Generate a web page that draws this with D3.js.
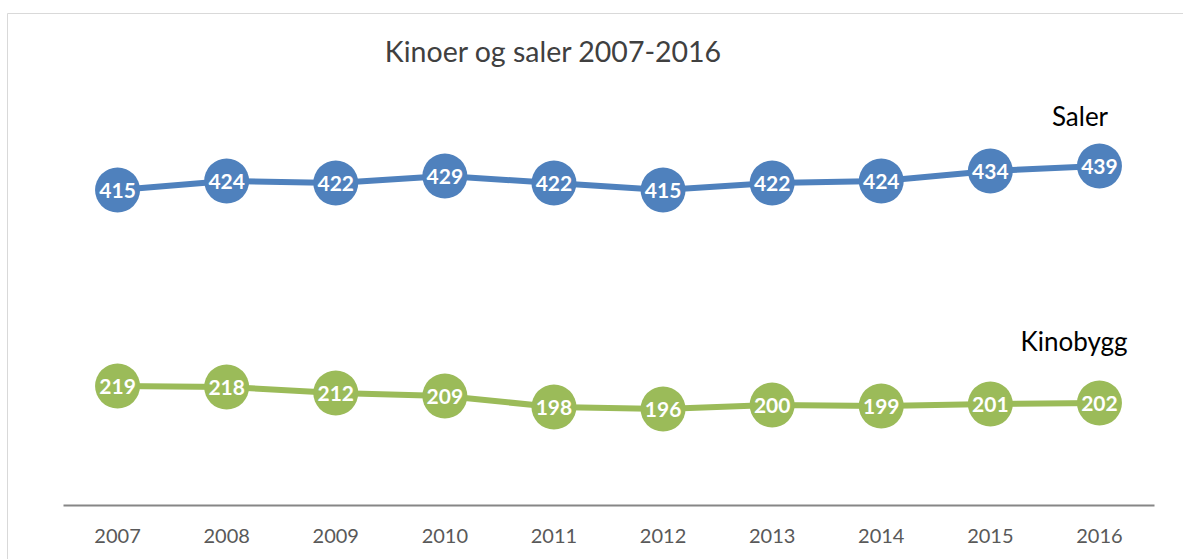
<!DOCTYPE html>
<html>
<head>
<meta charset="utf-8">
<script src="https://cdn.jsdelivr.net/npm/d3@7"></script>
<style>
  html, body { margin: 0; padding: 0; background: #fff; }
  svg { display: block; font-family: Lato, "Open Sans", sans-serif; }
</style>
</head>
<body>
<svg id="chart" width="1183" height="559"></svg>
<script>
const years = ["2007","2008","2009","2010","2011","2012","2013","2014","2015","2016"];
const saler = [415, 424, 422, 429, 422, 415, 422, 424, 434, 439];
const kinobygg = [219, 218, 212, 209, 198, 196, 200, 199, 201, 202];
const seriesNames = ["Saler", "Kinobygg"];
const seriesColors = ["#4F81BD", "#9BBB59"];
const title = "Kinoer og saler 2007-2016";

const svg = d3.select("#chart");
const W = 1183, H = 559;

// chart frame (cropped border: top + left)
svg.append("line").attr("x1", 7.5).attr("x2", W).attr("y1", 13.5).attr("y2", 13.5)
  .attr("stroke", "#d9d9d9").attr("stroke-width", 1);
svg.append("line").attr("x1", 7.5).attr("x2", 7.5).attr("y1", 13.5).attr("y2", H)
  .attr("stroke", "#d9d9d9").attr("stroke-width", 1);

const x = d3.scaleBand().domain(years).range([63, 1154]);
const y = d3.scaleLinear().domain([100, 500]).range([505, 105]);

// axis
const xAxis = d3.axisBottom(x).tickSize(0).tickPadding(0);
const gx = svg.append("g").attr("transform", "translate(0,505)").call(xAxis);
gx.select(".domain").attr("stroke", "#868686").attr("stroke-width", 2);
gx.selectAll(".tick text")
  .attr("y", 38)
  .attr("dy", 0)
  .attr("fill", "#595959")
  .style("font-size", "20px")
  .style("font-family", "Lato, sans-serif");

// title
svg.append("text").attr("x", 553).attr("y", 62).attr("text-anchor", "middle")
  .attr("fill", "#404040").style("font-size", "28.5px").text(title);

const data = [saler, kinobygg];
const line = d3.line().x((d, i) => x(years[i]) + x.bandwidth() / 2).y(d => y(d));

data.forEach((vals, s) => {
  const g = svg.append("g");
  g.append("path").datum(vals).attr("d", line)
    .attr("fill", "none").attr("stroke", seriesColors[s]).attr("stroke-width", 6)
    .attr("stroke-linejoin", "round");
  g.selectAll("circle").data(vals).join("circle")
    .attr("cx", (d, i) => x(years[i]) + x.bandwidth() / 2)
    .attr("cy", d => y(d))
    .attr("r", 22.5)
    .attr("fill", seriesColors[s]);
  g.selectAll("text.lbl").data(vals).join("text").attr("class", "lbl")
    .attr("x", (d, i) => x(years[i]) + x.bandwidth() / 2)
    .attr("y", d => y(d) + 7.5)
    .attr("text-anchor", "middle")
    .attr("fill", "#fff")
    .style("font-size", "21px")
    .style("font-weight", "bold")
    .text(d => d);
});

// series labels
svg.append("text").attr("x", 1080).attr("y", 126).attr("text-anchor", "middle")
  .attr("fill", "#000").style("font-size", "26px").text(seriesNames[0]);
svg.append("text").attr("x", 1074).attr("y", 351).attr("text-anchor", "middle")
  .attr("fill", "#000").style("font-size", "26px").text(seriesNames[1]);
</script>
</body>
</html>
